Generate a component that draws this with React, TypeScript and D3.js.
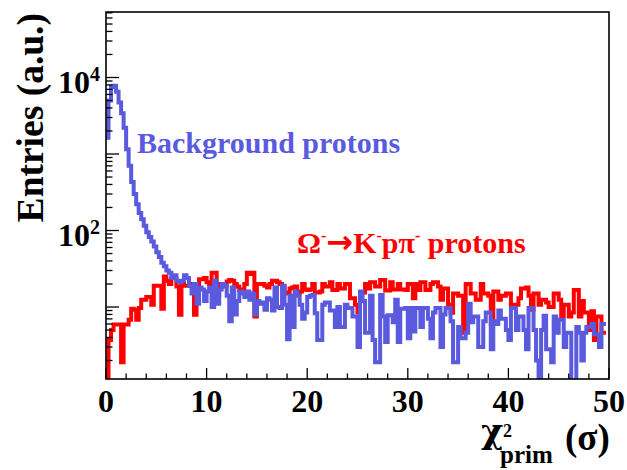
import React from "react";
import * as d3 from "d3";

// ---- data (bin width 0.25, bins starting at chi2 = 0) ----
const binWidth = 0.25;

const backgroundCounts = [
  1630, 5000, 7500, 7800, 6500, 4700, 3400, 2200, 1150, 700,
  430, 300, 220, 170, 140, 115, 95, 82, 72, 62,
  52, 45, 38, 34, 30, 28, 24, 26, 22, 21,
  22, 26, 24, 19, 15, 20, 11, 18, 17, 12,
  16, 18, 10, 22, 11, 17, 20, 19, 14, 6.5,
  18, 8, 12, 16, 15, 13.5, 16, 12.4, 15, 8,
  12, 11, 11.5, 9.2, 13, 12.4, 9, 18, 10, 9.7,
  19, 10.7, 3.8, 14, 5.5, 16, 14, 10.7, 7, 8.5,
  13.5, 14, 14.4, 8.3, 3.7, 3.7, 10.7, 11.5, 11.5, 9,
  9, 5.5, 10, 5.5, 5.5, 10.7, 9.7, 9.7, 7.5, 7.5,
  3, 16, 12, 4.6, 4.6, 14, 3.7, 1.9, 1.9, 14.4,
  7.5, 3.5, 7.8, 7.8, 6.3, 12.4, 3.5, 9.5, 9.5, 9.7,
  3.9, 9.7, 4.8, 9.7, 9.7, 5.5, 9.7, 9.7, 7, 3.9,
  8.5, 9.7, 9.7, 3, 8, 9.7, 9.7, 6.5, 1.9, 1.9,
  5.5, 3.9, 3.9, 4.6, 11, 6.3, 7.5, 7.5, 3, 3,
  6.5, 8.5, 8.5, 2.8, 6.5, 6, 9, 7, 7, 5,
  3.7, 9.7, 9.7, 5, 7.5, 7.5, 5, 2.8, 9.7, 9.7,
  5, 2.0, 1.0, 5, 7.7, 2.8, 2.8, 1.9, 7.5, 4.6,
  6.8, 6.8, 3, 4.6, 4.6, 1.0, 1.0, 5.5, 4.6, 2.0,
  4.6, 5.5, 5.5, 6, 4.4, 4.4, 3, 6,
];

const signalCounts = [
  0.8, 3.7, 5.0, 5.9, 5.9, 5.9, 1.9, 5.9, 5.9, 6.8,
  9.5, 9.2, 6.8, 9.7, 12.4, 12.4, 13.5, 13.5, 10.7, 19,
  19, 19, 9.5, 25, 22, 20, 24, 24, 18.5, 7.9,
  20, 19, 19, 20, 20, 7.9, 20, 23, 23, 24,
  21, 20, 28, 28, 14, 20, 18.5, 19, 21.5, 22.5,
  22, 20, 18.5, 16.7, 17, 20, 28, 27, 28, 7.5,
  20, 20, 20, 19, 18, 20, 22, 22, 21, 20,
  18.5, 15, 15.5, 17.5, 18, 18.5, 15, 16, 20, 17,
  16.7, 17, 20, 15.5, 15.5, 16, 20, 18.5, 18.5, 21,
  16.7, 16.7, 20, 17.5, 17.5, 20, 20, 13, 13, 10.7,
  8.5, 15.5, 15.5, 20, 17.5, 21, 21, 18.5, 18.5, 22.5,
  22.5, 16.5, 16.5, 21, 17, 17, 20, 17, 17, 16.7,
  20, 20, 13, 20, 16.7, 21, 21, 16.7, 16.7, 20,
  21, 21, 18.5, 12.4, 17.5, 17.5, 10.7, 8.4, 15, 15,
  14, 14, 4.6, 20, 20, 15, 15, 12.4, 12.4, 20,
  15, 15, 14, 6, 16, 16, 12.4, 14, 14, 15,
  15, 10.5, 10.7, 10.7, 13, 17.5, 17.5, 18, 14, 9.2,
  15, 15, 10.7, 12.4, 12.4, 11.5, 10, 10, 15, 15,
  12.4, 7.5, 10.7, 10.7, 7.5, 8.5, 16.7, 16.7, 7.5, 12,
  8.5, 8.5, 5, 8.8, 3.7, 7.5, 7.5, 4.6,
];

const xDomain = [0, 50];
const yDomain = [1.146, 71800];
const xMajorTicks = [0, 10, 20, 30, 40, 50];
const xMinorStep = 2;
const yLabelExponents = [2, 4];

const W = 627;
const H = 470;
const M = { left: 106, right: 609, top: 12, bottom: 379 };
const FONT = "'Liberation Serif', 'Times New Roman', Times, serif";
const BLUE = "#5a5ade";
const RED = "#ff0000";

export default function App() {
  const x = d3.scaleLinear().domain(xDomain).range([M.left, M.right]);
  const y = d3.scaleLog().domain(yDomain).range([M.bottom, M.top]);

  const histPath = (counts: number[]) => {
    const pts: [number, number][] = [];
    counts.forEach((c, i) => {
      const v = Math.max(c, 0.5);
      pts.push([x(i * binWidth), y(v)]);
      pts.push([x((i + 1) * binWidth), y(v)]);
    });
    return d3.line()(pts) || "";
  };

  const yTicks: { v: number; major: boolean }[] = [];
  for (let e = 0; e <= 4; e++) {
    for (let m = 1; m <= 9; m++) {
      const v = m * Math.pow(10, e);
      if (v >= yDomain[0] && v <= yDomain[1]) yTicks.push({ v, major: m === 1 });
    }
  }
  const xMinor = d3.range(xDomain[0], xDomain[1] + 0.001, xMinorStep).filter(
    (v) => !xMajorTicks.includes(v)
  );

  return (
    <div style={{ position: "fixed", left: 0, top: 0, width: W, height: H, background: "#fff" }}>
      <svg width={W} height={H} style={{ display: "block" }} fontFamily={FONT} fontWeight="bold">
        <defs>
          <clipPath id="frameClip">
            <rect x={M.left} y={M.top} width={M.right - M.left} height={M.bottom - M.top} />
          </clipPath>
        </defs>
        <rect x={0} y={0} width={W} height={H} fill="#fff" />

        <g clipPath="url(#frameClip)" fill="none" strokeLinejoin="miter" strokeLinecap="square">
          <path d={histPath(signalCounts)} stroke={RED} strokeWidth={4} />
          <path d={histPath(backgroundCounts)} stroke={BLUE} strokeWidth={4} />
        </g>

        {/* frame */}
        <rect
          x={M.left}
          y={M.top}
          width={M.right - M.left}
          height={M.bottom - M.top}
          fill="none"
          stroke="#000"
          strokeWidth={1.6}
        />

        {/* y ticks */}
        {yTicks.map((t, i) => (
          <line
            key={"yt" + i}
            x1={M.left}
            x2={M.left + (t.major ? 13 : 6.5)}
            y1={y(t.v)}
            y2={y(t.v)}
            stroke="#000"
            strokeWidth={1.3}
          />
        ))}
        {/* x ticks */}
        {xMajorTicks.map((v) => (
          <line key={"xM" + v} x1={x(v)} x2={x(v)} y1={M.bottom} y2={M.bottom - 11} stroke="#000" strokeWidth={1.3} />
        ))}
        {xMinor.map((v) => (
          <line key={"xm" + v} x1={x(v)} x2={x(v)} y1={M.bottom} y2={M.bottom - 5.5} stroke="#000" strokeWidth={1.3} />
        ))}

        {/* x tick labels */}
        {xMajorTicks.map((v) => (
          <text key={"xl" + v} x={x(v)} y={412} fontSize={32} textAnchor="middle" fill="#000">
            {v}
          </text>
        ))}
        {/* y tick labels */}
        {yLabelExponents.map((e) => (
          <text key={"yl" + e} x={100} y={y(Math.pow(10, e)) + 15.5} fontSize={32} textAnchor="end" fill="#000">
            10
            <tspan dy={-12} fontSize={20}>
              {e}
            </tspan>
          </text>
        ))}

        {/* axis titles */}
        <text
          transform="translate(43,13) rotate(-90)"
          fontSize={37.5}
          textAnchor="end"
          fill="#000"
        >
          Entries (a.u.)
        </text>
        <text x={481} y={443} fontSize={34} fontFamily="'DejaVu Serif', serif" fill="#000">χ</text>
        <text x={503} y={437} fontSize={18} fill="#000">2</text>
        <text x={500} y={463} fontSize={25} fill="#000">prim</text>
        <text x={565} y={450} fontSize={37} fill="#000">(σ)</text>

        {/* legend texts */}
        <text x={137} y={153} fontSize={30} fill={BLUE}>
          Background protons
        </text>
        <text x={297} y={253} fontSize={30} fill={RED}>
          Ω<tspan dy={-12} fontSize={16}>-</tspan>
          <tspan dy={12} fontFamily="'DejaVu Sans', sans-serif" fontSize={32}>→</tspan>
          <tspan>K</tspan>
          <tspan dy={-12} fontSize={16}>-</tspan>
          <tspan dy={12}>pπ</tspan>
          <tspan dy={-12} fontSize={16}>-</tspan>
          <tspan dy={12}> protons</tspan>
        </text>
      </svg>
    </div>
  );
}
